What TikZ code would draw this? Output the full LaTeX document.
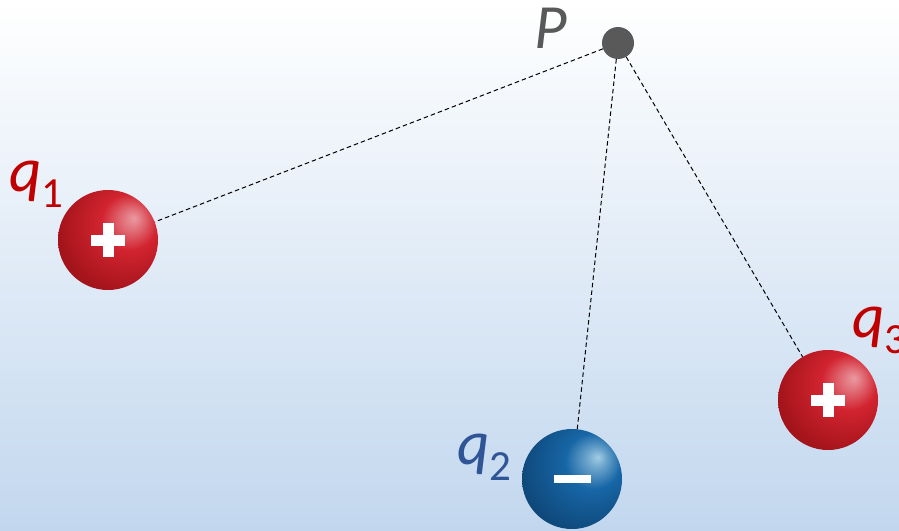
\documentclass[tikz,border=0pt]{standalone}
\usepackage{fontspec}
\setmainfont{Carlito}
\definecolor{bgblue}{HTML}{C2D7EE}
\definecolor{redlbl}{HTML}{C00000}
\definecolor{bluelbl}{HTML}{2F5597}
\definecolor{graylbl}{HTML}{595959}
\definecolor{redhi}{HTML}{EA9AA2}
\definecolor{redmid}{HTML}{D22430}
\definecolor{rededge}{HTML}{A5141B}
\definecolor{reddark}{HTML}{6A0A0D}
\definecolor{bluehi}{HTML}{A2CCE4}
\definecolor{bluemid}{HTML}{1766A6}
\definecolor{blueedge}{HTML}{0F4A7D}
\definecolor{bluedark}{HTML}{072A47}
\pgfdeclareradialshading{redball}{\pgfpoint{13bp}{11bp}}{color(0bp)=(redhi); color(5bp)=(redhi!65!redmid); color(14bp)=(redmid); color(32bp)=(rededge); color(50bp)=(rededge!50!reddark); color(64bp)=(reddark); color(75bp)=(reddark)}
\pgfdeclareradialshading{blueball}{\pgfpoint{13bp}{11bp}}{color(0bp)=(bluehi); color(5bp)=(bluehi!60!bluemid); color(14bp)=(bluemid); color(32bp)=(blueedge); color(50bp)=(blueedge!50!bluedark); color(64bp)=(bluedark); color(75bp)=(bluedark)}
\tikzset{
  redsphere/.style={circle, minimum size=100pt, inner sep=0pt, shading=redball},
  bluesphere/.style={circle, minimum size=100pt, inner sep=0pt, shading=blueball},
  pdot/.style={circle, minimum size=32pt, inner sep=0pt, fill=graylbl},
  conn/.style={draw=black, line width=1pt, dash pattern=on 4.5pt off 3pt},
  plusbar/.style={draw=white, line width=11pt},
  minusbar/.style={draw=white, line width=8pt},
  lbl/.style={anchor=base west, inner sep=0pt, font=\fontsize{63}{63}\selectfont\itshape},
}
\newcommand{\qsub}[1]{\upshape\raisebox{-16pt}{\fontsize{43}{43}\selectfont #1}}
\begin{document}
\begin{tikzpicture}[x=1pt,y=-1pt]
\shade[top color=white, bottom color=bgblue] (0,0) rectangle (899,530);
\useasboundingbox (0,0) rectangle (899,530);

\node[pdot] (P) at (618,43) {};
\node[redsphere] (q1) at (108,240) {};
\node[bluesphere] (q2) at (572,479) {};
\node[redsphere] (q3) at (828,400) {};

\draw[conn] (P) -- (q1);
\draw[conn] (P) -- (q2);
\draw[conn] (P) -- (q3);

\draw[plusbar] ([xshift=-17pt]q1.center) -- ([xshift=17pt]q1.center);
\draw[plusbar] ([yshift=-17pt]q1.center) -- ([yshift=17pt]q1.center);
\draw[plusbar] ([xshift=-17pt]q3.center) -- ([xshift=17pt]q3.center);
\draw[plusbar] ([yshift=-17pt]q3.center) -- ([yshift=17pt]q3.center);
\draw[minusbar] ([xshift=-18.5pt]q2.center) -- ([xshift=18.5pt]q2.center);

\node[lbl, text=graylbl] (Plbl) at (534,48) {P};
\node[lbl, text=redlbl] (l1) at (9,191) {q\qsub{1}};
\node[lbl, text=bluelbl] (l2) at (457,464) {q\qsub{2}};
\node[lbl, text=redlbl] (l3) at (852,337) {q\qsub{3}};
\end{tikzpicture}
\end{document}
